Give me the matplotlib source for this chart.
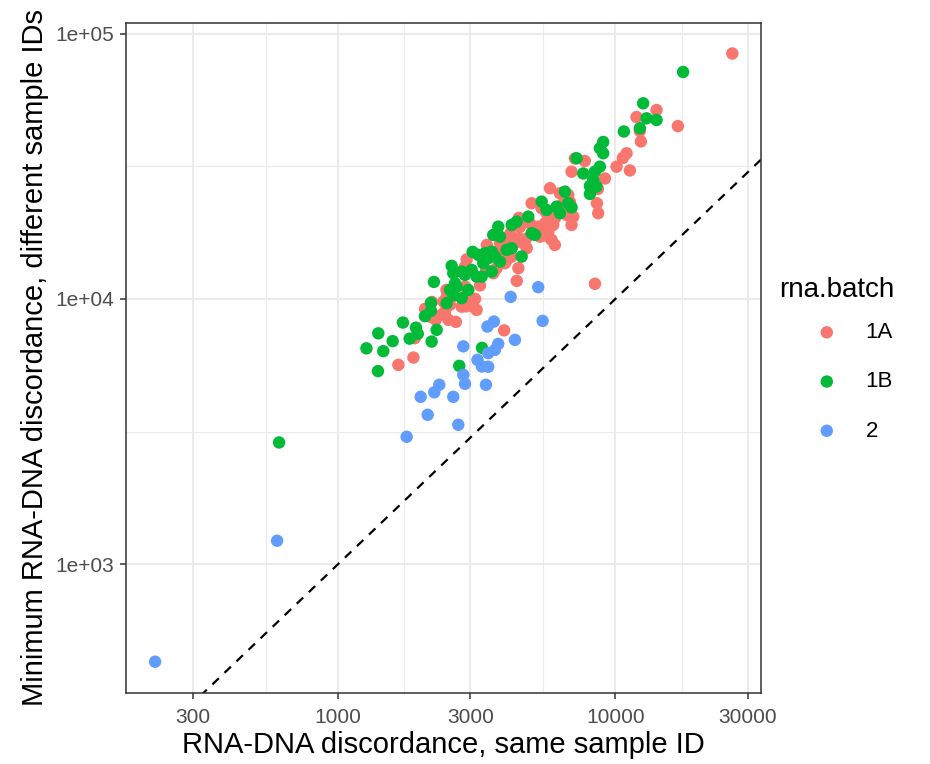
import matplotlib
matplotlib.use("Agg")
import matplotlib.pyplot as plt
from matplotlib.ticker import FixedLocator, NullFormatter

plt.rcParams['font.family'] = ['Liberation Sans', 'DejaVu Sans']

# rna.batch 1A
x_1a = [26400, 16800, 8440, 1650, 1870, 1890, 3970, 2060, 2180, 2150,
        2250, 2360, 2430, 2500, 2660, 2470, 2570, 2890, 2940, 3120,
        3250, 3420, 2910, 2870, 4060, 4470, 4410, 4060, 4280, 4470,
        4760, 4000, 4170, 4490, 4530, 3730, 3630, 3840, 3840, 3440,
        4000, 4230, 4790, 4660, 4410, 2400, 2530, 2790, 3160, 2530,
        2460, 2870, 3070, 6950, 7150, 7760, 5810, 6310, 6760, 6860,
        4990, 5420, 5810, 6050, 6670, 7050, 6950, 4920, 5270, 5570,
        5730, 5890, 6050, 5350, 10640, 10970, 10100, 11280, 9170, 8650,
        8580, 8670, 14070, 11920, 12250, 12360, 6670, 6490, 5650, 5970,
        5730]
y_1a = [84100, 44800, 11400, 5640, 6010, 7110, 7610, 9170, 9740, 8560,
        8340, 8710, 8960, 8340, 8190, 10200, 10500, 9370, 10260, 10000,
        11240, 12860, 14090, 13240, 14030, 13060, 11690, 15520, 15970, 16930,
        16830, 16680, 17570, 20190, 18670, 13060, 12500, 15300, 16210, 15970,
        13630, 14440, 15520, 16210, 16440, 9770, 9490, 9350, 9090, 9910,
        10810, 11120, 9350, 30160, 33820, 33100, 26120, 25010, 24650, 23190,
        22930, 21960, 21030, 20140, 20720, 20420, 19000, 19280, 18720, 19280,
        17880, 16680, 15970, 17160, 33970, 35380, 31500, 30480, 28430, 25970,
        22930, 21030, 51500, 48470, 42940, 39200, 21640, 22930, 21030, 19000,
        17160]

# rna.batch 1B
x_1b = [613, 17550, 1266, 1397, 1456, 1574, 1393, 1714, 1812, 1910,
        1939, 2175, 2268, 2058, 2163, 2163, 2217, 2464, 2533, 2678,
        2791, 2603, 2949, 2869, 2603, 2569, 2736, 3304, 2640, 2791,
        3032, 3161, 3295, 3058, 3203, 3387, 3481, 3580, 3680, 3836,
        3580, 3339, 3628, 3782, 3836, 4055, 4227, 4593, 4227, 4406,
        4852, 4990, 5129, 5422, 5652, 6140, 6578, 6761, 6953, 6310,
        7655, 8093, 8318, 7248, 8436, 8793, 9037, 8793, 9037, 8556,
        8093, 10731, 12253, 12594, 12954, 14073]
y_1b = [2876, 71650, 6510, 7415, 6354, 6930, 5343, 8143, 7081, 7791,
        7382, 6905, 7643, 8606, 9012, 9658, 11587, 9633, 10810, 11124,
        10059, 10352, 10810, 12315, 12497, 13319, 5593, 6539, 11437, 12671,
        12860, 12133, 12133, 15037, 14651, 14869, 14237, 15075, 14436, 13824,
        12671, 13634, 17419, 18719, 17162, 15300, 15521, 14436, 18999, 19548,
        20417, 17677, 17419, 23253, 21640, 22267, 25362, 22934, 22113, 21030,
        29695, 26647, 28070, 33880, 30160, 31504, 39027, 36950, 35383, 26484,
        24862, 42751, 43948, 54596, 47921, 47230]

# rna.batch 2
x_2 = [219, 603, 1768, 1986, 2105, 2223, 2317, 2603, 2714, 2829,
       2829, 2869, 3183, 3303, 3480, 3414, 3457, 3649, 3782, 3680,
       3480, 4192, 4343, 5270, 5466]
y_2 = [429, 1226, 3022, 4274, 3657, 4444, 4745, 4274, 3353, 6624,
       5173, 4785, 5892, 5559, 5550, 4745, 7865, 8215, 6768, 6426,
       6244, 10175, 7008, 11067, 8264]

batches = ['1A', '1B', '2']
colors = ['#F8766D', '#00BA38', '#619CFF']
xs = [x_1a, x_1b, x_2]
ys = [y_1a, y_1b, y_2]

x_breaks = [300, 1000, 3000, 10000, 30000]
x_labels = ['300', '1000', '3000', '10000', '30000']
x_minor = [548, 1732, 5477, 17321]
y_breaks = [1e3, 1e4, 1e5]
y_labels = ['1e+03', '1e+04', '1e+05']
y_minor = [3162, 31623]

fig = plt.figure(figsize=(9.3, 7.64), dpi=100)
ax = fig.add_axes([126 / 930, 71 / 764, 635 / 930, 670 / 764])
ax.set_xscale('log')
ax.set_yscale('log')
ax.set_xlim(172, 33500)
ax.set_ylim(327, 109600)

ax.set_axisbelow(True)
ax.xaxis.set_major_locator(FixedLocator(x_breaks))
ax.xaxis.set_minor_locator(FixedLocator(x_minor))
ax.yaxis.set_major_locator(FixedLocator(y_breaks))
ax.yaxis.set_minor_locator(FixedLocator(y_minor))
ax.xaxis.set_minor_formatter(NullFormatter())
ax.yaxis.set_minor_formatter(NullFormatter())
ax.set_xticklabels(x_labels)
ax.set_yticklabels(y_labels)
ax.grid(which='major', color='#EBEBEB', linewidth=1.5)
ax.grid(which='minor', color='#EBEBEB', linewidth=0.8)
ax.tick_params(which='major', length=4.5, width=1.1, color='#333333',
               labelsize=15, labelcolor='#4D4D4D', pad=4)
ax.tick_params(axis='x', which='major', pad=6)
ax.tick_params(which='minor', length=0)
for s in ax.spines.values():
    s.set_color('#333333')
    s.set_linewidth(1.1)

lim = [100, 200000]
ax.plot(lim, lim, color='black', linestyle=(0, (4, 3.5)), linewidth=1.6, zorder=2)

for b, c, x, y in zip(batches, colors, xs, ys):
    ax.scatter(x, y, s=80, color=c, edgecolors='none', label=b, zorder=3)

ax.set_xlabel('RNA-DNA discordance, same sample ID', fontsize=21, labelpad=3)
ax.set_ylabel('Minimum RNA-DNA discordance, different sample IDs', fontsize=21, labelpad=5)

handles, labels = ax.get_legend_handles_labels()
leg = fig.legend(handles, labels, title='rna.batch', loc='upper left',
                 bbox_to_anchor=(779 / 930, 1 - 277 / 764), frameon=False,
                 fontsize=16, title_fontsize=20, alignment='left',
                 handlelength=4.3, handletextpad=-0.4, labelspacing=1.27,
                 borderpad=0, borderaxespad=0, scatterpoints=1)
# tighter gap between title and first key (points), like ggplot
leg._legend_box.sep = 13.8

fig.savefig('out.png', dpi=100)
